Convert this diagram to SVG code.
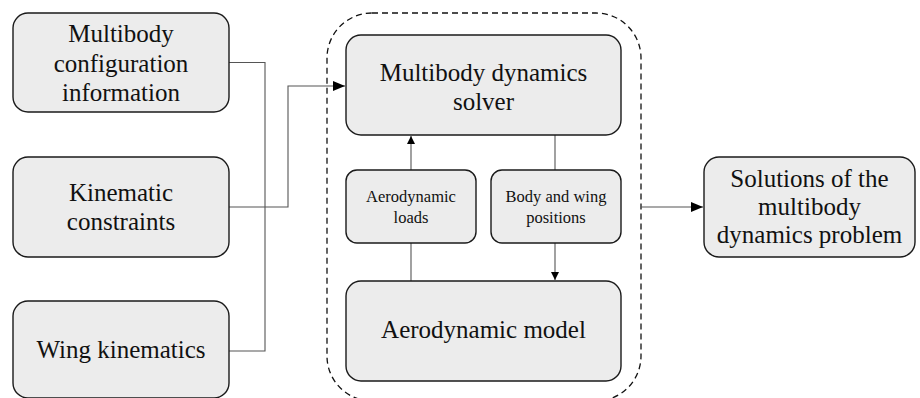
<svg xmlns="http://www.w3.org/2000/svg" width="920" height="398" viewBox="0 0 920 398" font-family="Liberation Serif, Times New Roman, serif">
<style>
.box{fill:#ececec;stroke:#1a1a1a;stroke-width:1.4}
.big{font-size:25px;fill:#111;text-anchor:middle}
.small{font-size:16.5px;fill:#111;text-anchor:middle}
.ln{fill:none;stroke:#555;stroke-width:1.1}
.dash{fill:none;stroke:#111;stroke-width:1.3;stroke-dasharray:6 4}
</style>
<defs>
<marker id="ab" viewBox="0 0 12 10" refX="12" refY="5" markerWidth="12" markerHeight="10" markerUnits="userSpaceOnUse" orient="auto"><path d="M0,0 L12,5 L0,10 Z" fill="#000"/></marker>
<marker id="as" viewBox="0 0 8 8" refX="8" refY="4" markerWidth="8" markerHeight="8" markerUnits="userSpaceOnUse" orient="auto"><path d="M0,0 L8,4 L0,8 Z" fill="#000"/></marker>
</defs>
<rect class="dash" x="327" y="13" width="314" height="388" rx="45"/>
<g id="connectors">
<polyline class="ln" points="229,62.5 265,62.5 265,351 229,351"/>
<polyline class="ln" points="229,207 288,207 288,86 345,86" marker-end="url(#ab)"/>
<line class="ln" x1="411" y1="281" x2="411" y2="243"/>
<line class="ln" x1="411" y1="170" x2="411" y2="136" marker-end="url(#as)"/>
<line class="ln" x1="555" y1="135" x2="555" y2="170"/>
<line class="ln" x1="555" y1="243" x2="555" y2="280" marker-end="url(#as)"/>
<line class="ln" x1="641" y1="207" x2="703" y2="207" marker-end="url(#ab)"/>
</g>
<g id="n1"><rect class="box" x="13" y="13" width="216" height="99" rx="15"/>
<text class="big" x="121" y="42">Multibody</text><text class="big" x="121" y="71.5">configuration</text><text class="big" x="121" y="101">information</text></g>
<g id="n2"><rect class="box" x="13" y="157" width="216" height="100" rx="15"/>
<text class="big" x="121" y="200.5">Kinematic</text><text class="big" x="121" y="230">constraints</text></g>
<g id="n3"><rect class="box" x="13" y="301" width="216" height="97" rx="15"/>
<text class="big" x="121" y="358">Wing kinematics</text></g>
<g id="solver"><rect class="box" x="346" y="35" width="275" height="100" rx="15"/>
<text class="big" x="483.5" y="81">Multibody dynamics</text><text class="big" x="483.5" y="110">solver</text></g>
<g id="loads"><rect class="box" x="346" y="170" width="130" height="73" rx="11"/>
<text class="small" x="411" y="202">Aerodynamic</text><text class="small" x="411" y="223">loads</text></g>
<g id="positions"><rect class="box" x="491" y="170" width="130" height="73" rx="11"/>
<text class="small" x="556" y="202">Body and wing</text><text class="small" x="556" y="223">positions</text></g>
<g id="aero"><rect class="box" x="346" y="281" width="275" height="100" rx="15"/>
<text class="big" x="483.5" y="338">Aerodynamic model</text></g>
<g id="solutions"><rect class="box" x="704" y="157" width="211" height="100" rx="15"/>
<text class="big" x="809.5" y="187">Solutions of the</text><text class="big" x="809.5" y="215">multibody</text><text class="big" x="809.5" y="243">dynamics problem</text></g>
</svg>
